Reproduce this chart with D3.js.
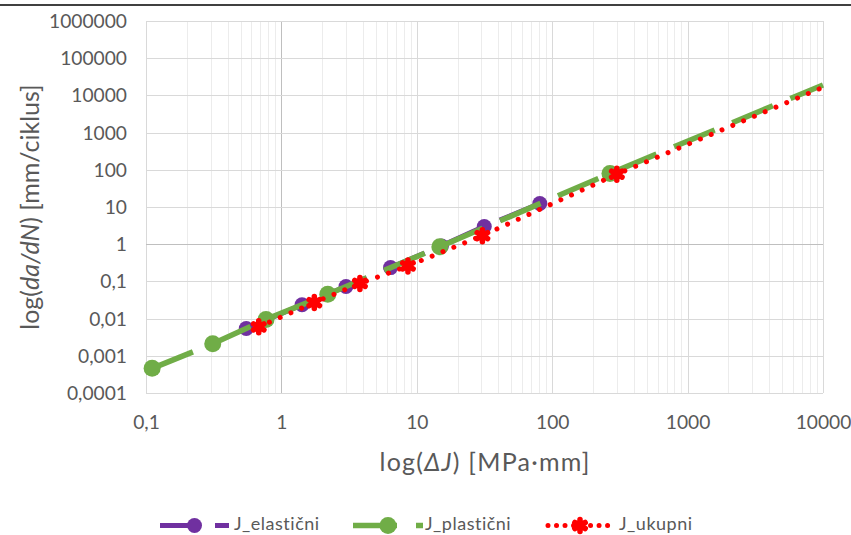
<!DOCTYPE html>
<html><head><meta charset="utf-8">
<script src="https://cdn.jsdelivr.net/npm/d3@7"></script>
<style>html,body{margin:0;padding:0;background:#fff;}svg{display:block;font-family:Lato,"Open Sans",sans-serif;}</style>
</head><body><svg id="c" width="851" height="535"></svg>
<script>
// ---- data ----
const xTickValues = [0.1, 1, 10, 100, 1000, 10000];
const xTickLabels = ["0,1", "1", "10", "100", "1000", "10000"];
const yTickValues = [0.0001, 0.001, 0.01, 0.1, 1, 10, 100, 1000, 10000, 100000, 1000000];
const yTickLabels = ["0,0001", "0,001", "0,01", "0,1", "1", "10", "100", "1000", "10000", "100000", "1000000"];

const elasticX = [0.55, 1.42, 3.0, 6.4, 15.2, 31.5, 81];
const elasticY = [0.0054, 0.0235, 0.073, 0.235, 0.9, 3.0, 12.4];
const plasticX = [0.111, 0.311, 0.77, 2.2, 14.8, 267];
const plasticY = [0.00046, 0.0021, 0.0095, 0.045, 0.85, 80];
const totalX = [0.68, 1.75, 3.8, 8.6, 30.5, 300];
const totalY = [0.006, 0.027, 0.088, 0.26, 1.7, 76];
// line continuation beyond last marker
const plasticLineEndX = [10000];
const plasticLineEndY = [19000];
const totalLineEndX = [10000];
const totalLineEndY = [16500];

const seriesNames = ["J_elastični", "J_plastični", "J_ukupni"];
const seriesColors = ["#7030A0", "#70AD47", "#FF0000"];

// ---- layout ----
const svg = d3.select("#c");
const L = 146, R = 823, T = 21, B = 393;
const x = d3.scaleLog().domain([0.1, 10000]).range([L, R]);
const y = d3.scaleLog().domain([0.0001, 1000000]).range([B, T]);

// top border line
svg.append("line").attr("x1", 0).attr("x2", 851).attr("y1", 5).attr("y2", 5)
  .attr("stroke", "#000").attr("stroke-width", 1.5);

// minor grid
const g = svg.append("g");
const xMinor = x.ticks().filter(v => !xTickValues.some(t => Math.abs(t - v) / t < 1e-9));
const yMinor = y.ticks().filter(v => !yTickValues.some(t => Math.abs(t - v) / t < 1e-9));
g.selectAll(".xm").data(xMinor).join("line")
  .attr("x1", d => Math.round(x(d)) + 0.5).attr("x2", d => Math.round(x(d)) + 0.5)
  .attr("y1", T).attr("y2", B).attr("stroke", "#ececec").attr("stroke-width", 1);
g.selectAll(".ym").data(yMinor).join("line")
  .attr("y1", d => Math.round(y(d)) + 0.5).attr("y2", d => Math.round(y(d)) + 0.5)
  .attr("x1", L).attr("x2", R).attr("stroke", "#ececec").attr("stroke-width", 1);
// major grid
g.selectAll(".xM").data(xTickValues).join("line")
  .attr("x1", d => Math.round(x(d)) + 0.5).attr("x2", d => Math.round(x(d)) + 0.5)
  .attr("y1", T).attr("y2", B).attr("stroke", d => d === 1 ? "#bfbfbf" : "#d9d9d9").attr("stroke-width", 1);
g.selectAll(".yM").data(yTickValues).join("line")
  .attr("y1", d => Math.round(y(d)) + 0.5).attr("y2", d => Math.round(y(d)) + 0.5)
  .attr("x1", L).attr("x2", R).attr("stroke", d => d === 1 ? "#bfbfbf" : "#d9d9d9").attr("stroke-width", 1);

// axes labels
const tickSize = 18.5;
const xAxis = d3.axisBottom(x).tickValues(xTickValues)
  .tickFormat((d, i) => xTickLabels[i]).tickSize(0).tickPadding(0);
const xa = svg.append("g").attr("transform", `translate(0,${B})`).call(xAxis);
xa.select(".domain").remove();
xa.selectAll("text").attr("y", 0).attr("dy", "36px").attr("fill", "#595959")
  .style("font-size", tickSize + "px").style("font-family", "Lato");

const yAxis = d3.axisLeft(y).tickValues(yTickValues)
  .tickFormat((d, i) => yTickLabels[i]).tickSize(0).tickPadding(0);
const ya = svg.append("g").attr("transform", `translate(${L - 19},0)`).call(yAxis);
ya.select(".domain").remove();
ya.selectAll("text").attr("x", 0).attr("dy", "0.35em").attr("fill", "#595959")
  .style("font-size", tickSize + "px").style("font-family", "Lato");

// widen tick labels (reference digits are wide): "1000000" spans ~78px
const refNode = ya.selectAll("text").filter((d, i) => yTickLabels[i] === "1000000").node();
const kW = refNode ? 78 / refNode.getComputedTextLength() : 1;
if (kW > 1.01) {
  svg.selectAll(".tick text").each(function () {
    const w = this.getComputedTextLength();
    d3.select(this).attr("textLength", w * kW).attr("lengthAdjust", "spacingAndGlyphs");
  });
}

// axis titles
const xt = svg.append("text").attr("x", (L + R) / 2).attr("y", 471).attr("text-anchor", "middle")
  .attr("fill", "#595959").style("font-size", "25px");
xt.append("tspan").text("log(");
xt.append("tspan").style("font-style", "italic").text("ΔJ");
xt.append("tspan").text(") [MPa·mm]");
const xtw = xt.node().getComputedTextLength();
if (xtw < 210) xt.attr("textLength", 210).attr("lengthAdjust", "spacing");

const yt = svg.append("text").attr("transform", `translate(39,${(T + B) / 2}) rotate(-90)`)
  .attr("text-anchor", "middle").attr("fill", "#595959").style("font-size", "25px");
yt.append("tspan").text("log(");
yt.append("tspan").style("font-style", "italic").text("da/dN");
yt.append("tspan").text(") [mm/ciklus]");

// ---- series ----
const line = d3.line().x(d => x(d[0])).y(d => y(d[1]));
const elasticPts = elasticX.map((v, i) => [v, elasticY[i]]);
const plasticPts = plasticX.map((v, i) => [v, plasticY[i]]);
const totalPts = totalX.map((v, i) => [v, totalY[i]]);
const plasticLine = plasticPts.concat(plasticLineEndX.map((v, i) => [v, plasticLineEndY[i]]));
const totalLine = totalPts.concat(totalLineEndX.map((v, i) => [v, totalLineEndY[i]]));

function starPath(cx, cy, s) {
  const a = s * 0.87, b = s * 0.5;
  return `M${cx},${cy - s}L${cx},${cy + s}M${cx - a},${cy - b}L${cx + a},${cy + b}M${cx - a},${cy + b}L${cx + a},${cy - b}`;
}

const styles = [
  { dash: "40,15", width: 5, cap: "butt" },
  { dash: "44,19", width: 5.5, cap: "butt" },
  { dash: "0.01,11.7", width: 5, cap: "round" }
];

const gl = svg.append("g");
const elasticPath = gl.append("path");
const elasticMarks = gl.append("g");
const plasticPath = gl.append("path").attr("d", line(plasticLine)).attr("fill", "none").attr("stroke", seriesColors[1])
  .attr("stroke-width", styles[1].width).attr("stroke-dasharray", styles[1].dash);

// elastic line dashes in phase with the plastic line it runs under
const pn = plasticPath.node(), total = pn.getTotalLength();
const targetX = x(elasticX[0]);
let lo = 0, hi = total;
for (let k = 0; k < 40; k++) { const m = (lo + hi) / 2; if (pn.getPointAtLength(m).x < targetX) lo = m; else hi = m; }
elasticPath.attr("d", line(elasticPts)).attr("fill", "none").attr("stroke", seriesColors[0])
  .attr("stroke-width", styles[0].width).attr("stroke-dasharray", styles[1].dash)
  .attr("stroke-dashoffset", lo);
elasticMarks.selectAll("circle").data(elasticPts).join("circle")
  .attr("cx", d => x(d[0])).attr("cy", d => y(d[1])).attr("r", 7.5).attr("fill", seriesColors[0]);

gl.append("g").selectAll("circle").data(plasticPts).join("circle")
  .attr("cx", d => x(d[0])).attr("cy", d => y(d[1])).attr("r", 8.5).attr("fill", seriesColors[1]);
// total
gl.append("path").attr("d", line(totalLine)).attr("fill", "none").attr("stroke", seriesColors[2])
  .attr("stroke-width", styles[2].width).attr("stroke-dasharray", styles[2].dash).attr("stroke-linecap", "round");
gl.append("g").selectAll("path").data(totalPts).join("path")
  .attr("d", d => starPath(x(d[0]), y(d[1]), 6)).attr("fill", "none")
  .attr("stroke", seriesColors[2]).attr("stroke-width", 5.5).attr("stroke-linecap", "round");

// ---- legend ----
const legY = 525.5;
const leg = [
  { x1: 160, x2: 229, tx: 234 },
  { x1: 353, x2: 423, tx: 425 },
  { x1: 548, x2: 612, tx: 619 }
];
leg.forEach((l, i) => {
  const lg = svg.append("g");
  lg.append("line").attr("x1", l.x1).attr("x2", l.x2).attr("y1", legY).attr("y2", legY)
    .attr("stroke", seriesColors[i]).attr("stroke-width", styles[i].width)
    .attr("stroke-dasharray", i === 2 ? "0.01,8.5" : styles[i].dash)
    .attr("stroke-linecap", styles[i].cap);
  const mx = (l.x1 + l.x2) / 2;
  if (i < 2) lg.append("circle").attr("cx", mx).attr("cy", legY).attr("r", i === 0 ? 7.5 : 8.5).attr("fill", seriesColors[i]);
  else lg.append("path").attr("d", starPath(mx, legY, 6)).attr("fill", "none")
    .attr("stroke", seriesColors[i]).attr("stroke-width", 5.5).attr("stroke-linecap", "round");
  lg.append("text").attr("x", l.tx).attr("y", 530).attr("fill", "#595959")
    .style("font-size", "18px").style("letter-spacing", "0.5px").text(seriesNames[i]);
});
</script></body></html>
